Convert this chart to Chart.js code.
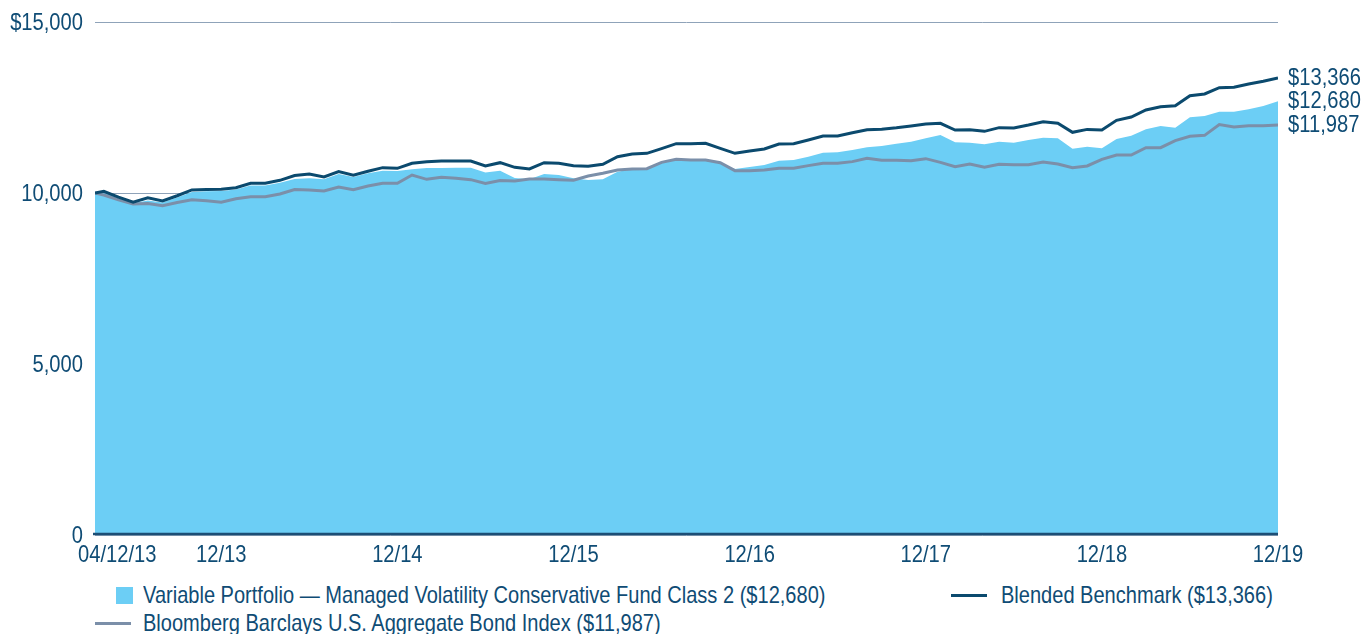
<!DOCTYPE html>
<html>
<head>
<meta charset="utf-8">
<script src="https://cdn.jsdelivr.net/npm/chart.js@4.4.1/dist/chart.umd.min.js"></script>
<style>
    html, body { margin: 0; padding: 0; background: #ffffff; }
    #wrap { position: relative; width: 1366px; height: 634px; overflow: hidden; }
    #plot { position: absolute; left: 0; top: 0; width: 1366px; height: 572px; }
    .legend { position: absolute; font: 24px "Liberation Sans", Arial, sans-serif; color: #0f4c75; line-height: 28px; white-space: nowrap; transform: scaleX(0.835); transform-origin: 0 0; }
    .swatch { position: absolute; }
</style>
</head>
<body>
<div id="wrap">
    <div id="plot"><canvas id="growthChart"></canvas></div>

    <div class="swatch" style="left:116px;top:587px;width:17px;height:17px;background:#6ccef5;"></div>
    <div class="legend" style="left:143px;top:581px;">Variable Portfolio — Managed Volatility Conservative Fund Class 2 ($12,680)</div>

    <div class="swatch" style="left:951px;top:594px;width:36px;height:3px;background:#0b4a6e;"></div>
    <div class="legend" style="left:1001px;top:581px;">Blended Benchmark ($13,366)</div>

    <div class="swatch" style="left:95px;top:622px;width:36px;height:3px;background:#7b8fa9;"></div>
    <div class="legend" style="left:143px;top:609px;">Bloomberg Barclays U.S. Aggregate Bond Index ($11,987)</div>
</div>

<script>
(function () {
    "use strict";

    // month-end values of a $10,000 investment, 04/12/13 -> 12/31/19
    const fundValues = [
        10000, 10030, 9850, 9700, 9780, 9720, 9870, 10030, 10050, 10060,
        10100, 10220, 10220, 10300, 10410, 10430, 10400, 10556, 10468, 10575,
        10653, 10643, 10692, 10731, 10731, 10741, 10741, 10600, 10650, 10439,
        10400, 10556, 10526, 10430, 10380, 10400, 10624, 10692, 10702, 10917,
        10965, 10960, 10965, 10887, 10702, 10760, 10819, 10946, 10965, 11062,
        11180, 11189, 11257, 11335, 11374, 11440, 11501, 11599, 11696, 11482,
        11472, 11424, 11501, 11472, 11550, 11618, 11599, 11296, 11350, 11307,
        11579, 11676, 11862, 11959, 11911, 12213, 12252, 12378, 12378, 12447,
        12544, 12680
    ];
    const benchmarkValues = [
        10000, 10050, 9880, 9730, 9860, 9770, 9920, 10090, 10100, 10110,
        10155, 10285, 10285, 10370, 10510, 10556, 10468, 10624, 10517, 10634,
        10741, 10721, 10868, 10917, 10936, 10936, 10936, 10790, 10887, 10751,
        10702, 10887, 10868, 10800, 10780, 10839, 11062, 11140, 11160, 11296,
        11442, 11440, 11453, 11307, 11160, 11228, 11287, 11433, 11442, 11550,
        11667, 11667, 11764, 11852, 11862, 11905, 11959, 12018, 12038, 11842,
        11852, 11803, 11911, 11901, 11988, 12085, 12038, 11774, 11860, 11842,
        12125, 12222, 12427, 12524, 12553, 12846, 12895, 13080, 13090, 13187,
        13266, 13366
    ];
    const bondIndexValues = [
        10000, 9940, 9800, 9680, 9690, 9630, 9720, 9800, 9770, 9730,
        9830, 9890, 9890, 9970, 10100, 10088, 10059, 10176, 10097, 10205,
        10284, 10284, 10526, 10400, 10459, 10430, 10390, 10280, 10362, 10351,
        10410, 10410, 10390, 10371, 10497, 10575, 10673, 10702, 10712, 10897,
        10985, 10965, 10965, 10887, 10653, 10653, 10673, 10721, 10721, 10800,
        10868, 10868, 10917, 11014, 10956, 10956, 10946, 11004, 10897, 10770,
        10848, 10751, 10839, 10829, 10829, 10907, 10848, 10740, 10790, 10985,
        11111, 11111, 11326, 11326, 11530, 11657, 11686, 12000, 11930, 11969,
        11969, 11987
    ];

    // x axis runs in months from 04/12/13; first month-end is 04/30/13
    const monthPositions = fundValues.map((_, i) => (i === 0 ? 0 : i - 0.4));
    const tickLabels = ["04/12/13", "12/13", "12/14", "12/15", "12/16", "12/17", "12/18", "12/19"];
    const tickMonths = [0, 8.6, 20.6, 32.6, 44.6, 56.6, 68.6, 80.6];
    const endLabels = ["$13,366", "$12,680", "$11,987"];

    const textColor = "#0f4c75";
    const labelFont = "24px \"Liberation Sans\", Arial, sans-serif";
    const narrow = 0.84;

    const toPoints = (values) => values.map((v, i) => ({ x: monthPositions[i], y: v }));
    const yLabel = (value) => (value === 15000 ? "$15,000" : value.toLocaleString("en-US"));

    // condensed text: the original face is a narrow sans, so squeeze a regular one
    function narrowText(ctx, text, x, y, align) {
        ctx.save();
        ctx.translate(x, y);
        ctx.scale(narrow, 1);
        ctx.textAlign = align;
        ctx.fillText(text, 0, 0);
        ctx.restore();
    }

    const decorPlugin = {
        id: "decor",
        afterDatasetsDraw(chart) {
            const { ctx, chartArea, scales } = chart;
            const yZero = scales.y.getPixelForValue(0);

            ctx.save();
            ctx.strokeStyle = "#1c4e75";
            ctx.lineWidth = 2.5;
            ctx.beginPath();
            ctx.moveTo(chartArea.left - 2, yZero - 1);
            ctx.lineTo(chartArea.right, yZero - 1);
            ctx.stroke();

            ctx.font = labelFont;
            ctx.fillStyle = textColor;
            ctx.textBaseline = "middle";

            scales.y.ticks.forEach((tick) => {
                narrowText(ctx, yLabel(tick.value), chartArea.left - 12, scales.y.getPixelForValue(tick.value) + 1, "right");
            });

            scales.x.ticks.forEach((tick, i) => {
                const x = scales.x.getPixelForValue(tick.value);
                if (i === 0) {
                    narrowText(ctx, tickLabels[i], x - 17, chartArea.bottom + 20, "left");
                } else {
                    narrowText(ctx, tickLabels[i], x, chartArea.bottom + 20, "center");
                }
            });

            [benchmarkValues, fundValues, bondIndexValues].forEach((values, i) => {
                const y = scales.y.getPixelForValue(values[values.length - 1]);
                narrowText(ctx, endLabels[i], chartArea.right + 10, y, "left");
            });
            ctx.restore();
        }
    };

    new Chart(document.getElementById("growthChart"), {
        type: "line",
        data: {
            datasets: [
                {
                    label: "Blended Benchmark",
                    data: toPoints(benchmarkValues),
                    borderColor: "#0b4a6e",
                    borderWidth: 3,
                    pointRadius: 0,
                    fill: false,
                    order: 0
                },
                {
                    label: "Bloomberg Barclays U.S. Aggregate Bond Index",
                    data: toPoints(bondIndexValues),
                    borderColor: "#7b8fa9",
                    borderWidth: 3,
                    pointRadius: 0,
                    fill: false,
                    order: 1
                },
                {
                    label: "Variable Portfolio — Managed Volatility Conservative Fund Class 2",
                    data: toPoints(fundValues),
                    backgroundColor: "#6ccef5",
                    borderWidth: 0,
                    pointRadius: 0,
                    fill: "origin",
                    order: 2
                }
            ]
        },
        plugins: [decorPlugin],
        options: {
            responsive: true,
            maintainAspectRatio: false,
            animation: false,
            layout: { padding: { top: 22, right: 88, left: 0, bottom: 0 } },
            plugins: {
                legend: { display: false },
                tooltip: { enabled: false }
            },
            scales: {
                x: {
                    type: "linear",
                    min: 0,
                    max: 80.6,
                    grid: { display: false },
                    border: { display: false },
                    afterBuildTicks(scale) {
                        scale.ticks = tickMonths.map((value) => ({ value }));
                    },
                    afterFit(scale) {
                        scale.height = 37;
                    },
                    ticks: { display: false, autoSkip: false }
                },
                y: {
                    min: 0,
                    max: 15000,
                    grid: { color: "#8fa3b9", lineWidth: 1, drawTicks: false },
                    border: { display: false },
                    afterFit(scale) {
                        scale.width = 95;
                    },
                    ticks: { display: false, stepSize: 5000 }
                }
            }
        }
    });
}());
</script>
</body>
</html>
